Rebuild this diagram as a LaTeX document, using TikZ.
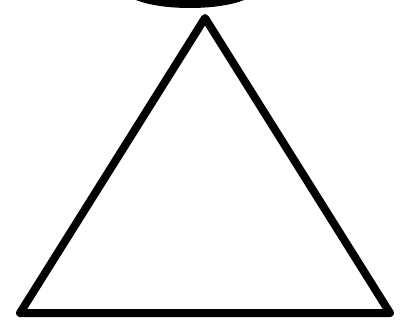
\documentclass[tikz,border=0pt]{standalone}
\begin{document}
\begin{tikzpicture}[x=1pt, y=-1pt, line width=8pt, line join=round]
  \useasboundingbox (0, 0) rectangle (404, 326);
  \coordinate (t) at (205, 18);
  \coordinate (l) at (20, 313);
  \coordinate (r) at (390, 313);
  \coordinate (h) at (190, -10);
  \begin{scope}
    \clip (0, 0) rectangle (404, 326);
    \fill (h) ellipse [x radius=65, y radius=18];
  \end{scope}
  \draw (l) -- (t) -- (r) -- cycle;
\end{tikzpicture}
\end{document}
